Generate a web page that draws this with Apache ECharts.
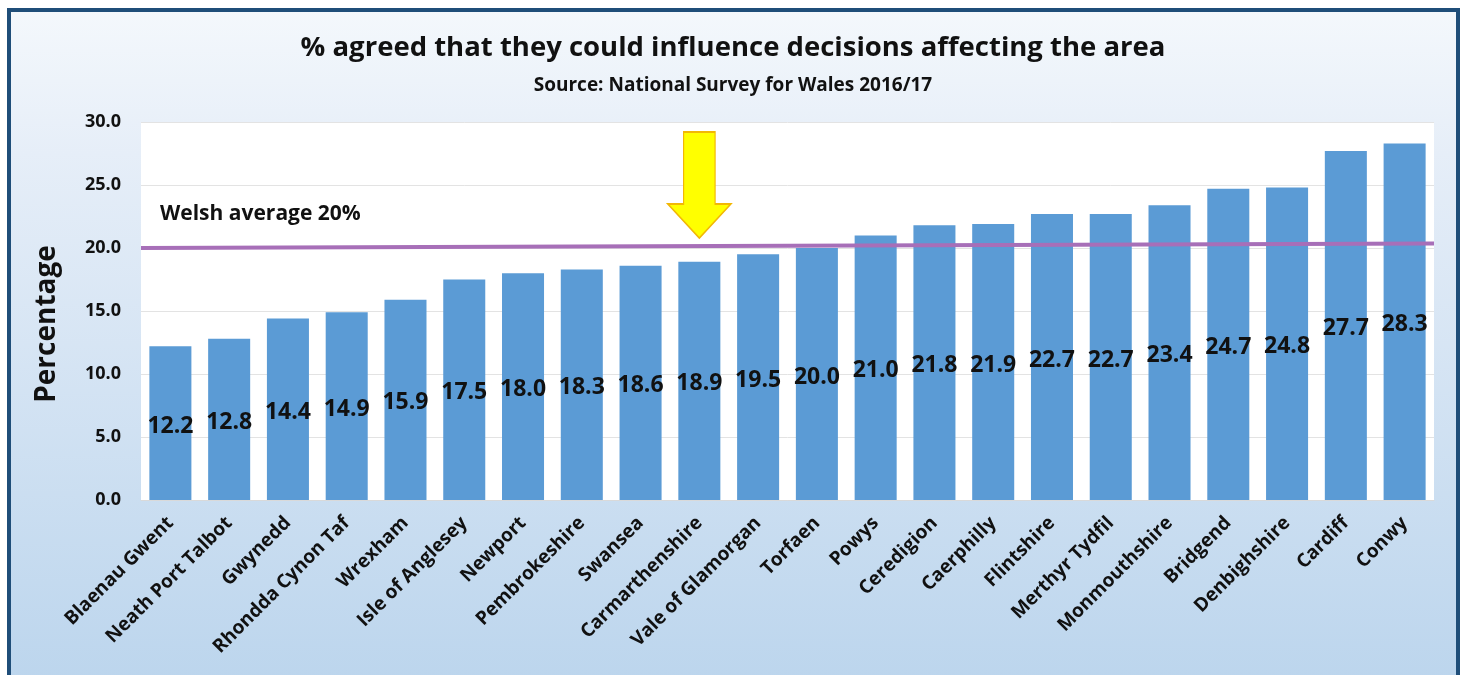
<!DOCTYPE html>
<html>
<head>
<meta charset="utf-8">
<script src="https://cdn.jsdelivr.net/npm/echarts@6/dist/echarts.min.js"></script>
<style>
html,body{margin:0;padding:0;background:#fff;}
#chart{width:1466px;height:675px;}
</style>
</head>
<body>
<div id="chart"></div>
<script>
const categories = ["Blaenau Gwent","Neath Port Talbot","Gwynedd","Rhondda Cynon Taf","Wrexham","Isle of Anglesey","Newport","Pembrokeshire","Swansea","Carmarthenshire","Vale of Glamorgan","Torfaen","Powys","Ceredigion","Caerphilly","Flintshire","Merthyr Tydfil","Monmouthshire","Bridgend","Denbighshire","Cardiff","Conwy"];
const values = [12.2,12.8,14.4,14.9,15.9,17.5,18.0,18.3,18.6,18.9,19.5,20.0,21.0,21.8,21.9,22.7,22.7,23.4,24.7,24.8,27.7,28.3];
const averageLine = [20.0, 20.35];
const averageText = "Welsh average 20%";
const highlighted = "Carmarthenshire";
const arrowValue = 25.0;
const yTicks = {min: 0, max: 30, interval: 5};

const FONT = '"Open Sans", "DejaVu Sans", sans-serif';
const chart = echarts.init(document.getElementById('chart'));
chart.setOption({
  backgroundColor: '#ffffff',
  animation: false,
  graphic: [{
    type: 'rect', z: -10, silent: true,
    shape: {x: 9, y: 10, width: 1449, height: 720},
    style: {
      fill: new echarts.graphic.LinearGradient(0, 0, 0, 1, [
        {offset: 0, color: '#F4F8FC'},
        {offset: 0.2, color: '#E6EEF8'},
        {offset: 1, color: '#B8D3EC'}
      ]),
      stroke: '#1F4E79', lineWidth: 4
    }
  }],
  title: [{
    text: '% agreed that they could influence decisions affecting the area',
    left: 'center', top: 29,
    textStyle: {fontFamily: FONT, fontWeight: 'bold', fontSize: 27.5, color: '#111'}
  }, {
    text: 'Source: National Survey for Wales 2016/17',
    left: 'center', top: 71,
    textStyle: {fontFamily: FONT, fontWeight: 'bold', fontSize: 19, color: '#111'}
  }, {
    text: averageText, left: 155, top: 199,
    textStyle: {fontFamily: FONT, fontWeight: 'bold', fontSize: 21, color: '#111'}
  }],
  grid: {left: 141, right: 32, top: 122, bottom: 175, show: true, backgroundColor: '#ffffff', borderWidth: 0},
  xAxis: [{
    type: 'category', data: categories,
    axisLine: {show: true, lineStyle: {color: '#D9D9D9'}},
    axisTick: {show: false},
    axisLabel: {rotate: 45, interval: 0, margin: 20, fontFamily: FONT, fontWeight: 'bold', fontSize: 19, color: '#111'}
  }, {
    type: 'value', min: 0, max: 1, show: false
  }],
  yAxis: {
    type: 'value', min: yTicks.min, max: yTicks.max, interval: yTicks.interval,
    name: 'Percentage', nameLocation: 'middle', nameGap: 80, nameRotate: 90,
    nameTextStyle: {fontFamily: FONT, fontWeight: 'bold', fontSize: 28, color: '#111', padding: [0, 26, 0, 0]},
    axisLine: {show: false}, axisTick: {show: false},
    axisLabel: {formatter: v => v.toFixed(1), margin: 20, fontFamily: FONT, fontWeight: 'bold', fontSize: 18, color: '#111'},
    splitLine: {lineStyle: {color: '#E3E3E3', width: 1}}
  },
  series: [{
    type: 'bar', data: values, barCategoryGap: '28.5%', z: 2,
    itemStyle: {color: '#5B9BD5'},
    label: {show: true, position: 'inside', offset: [0, 3], formatter: p => p.value.toFixed(1),
      fontFamily: FONT, fontWeight: 'bold', fontSize: 23, color: '#111'},
    markPoint: {
      symbol: 'path://M16,0 L48,0 L48,72 L64,72 L32,106 L0,72 L16,72 Z',
      symbolSize: [63, 106], symbolKeepAspect: false,
      itemStyle: {color: '#FFFF00', borderColor: '#F2B705', borderWidth: 1.5},
      label: {show: false},
      data: [{coord: [highlighted, arrowValue]}]
    }
  }, {
    type: 'line', xAxisIndex: 1, z: 3,
    data: [[0, averageLine[0]], [1, averageLine[1]]],
    symbol: 'none',
    lineStyle: {color: '#A76FB8', width: 4}
  }]
});
</script>
</body>
</html>
